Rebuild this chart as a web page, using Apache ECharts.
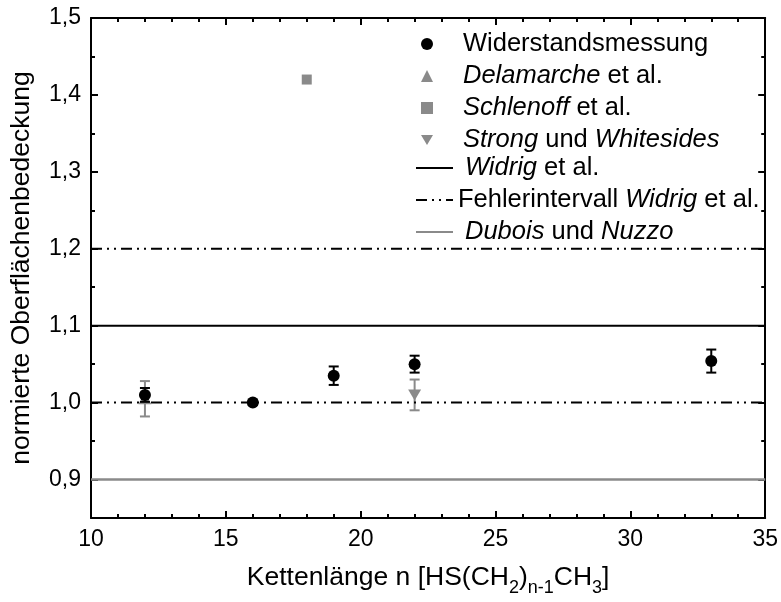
<!DOCTYPE html>
<html><head><meta charset="utf-8">
<script src="https://cdn.jsdelivr.net/npm/echarts@6/dist/echarts.min.js"></script>
<style>html,body{margin:0;padding:0;background:#fff}#c{width:781px;height:602px}</style>
</head><body><div id="c"></div>
<script>
// ---- data ----
const widN = [12, 16, 19, 22, 33];
const widY = [1.010, 1.000, 1.035, 1.050, 1.054];
const widE = [0.009, 0.003, 0.012, 0.011, 0.015];
const delN = [12];
const delY = [1.005];
const delE = [0.023];
const schN = [18];
const schY = [1.42];
const strN = [22];
const strY = [1.010];
const strE = [0.020];
const widrigLevel = [1.1];
const fehlerLevels = [1.2, 1.0];
const duboisLevel = [0.9];
const xRange = [10, 35];
const yRange = [0.85, 1.5];
const yMajor = [0.9, 1.0, 1.1, 1.2, 1.3, 1.4, 1.5];
const yMinor = [0.85, 0.95, 1.05, 1.15, 1.25, 1.35, 1.45];

const FONT = 'Liberation Sans, Arial, sans-serif';
const GRAY = '#8a8a8a';
const pts = (xs, ys) => xs.map((x, i) => [x, ys[i]]);
const errs = (xs, ys, es) => xs.map((x, i) => [x, ys[i] - es[i], ys[i] + es[i]]);
const hline = v => [[xRange[0], v], [xRange[1], v]];

function errRender(color) {
  return function (params, api) {
    const x = api.value(0), lo = api.value(1), hi = api.value(2);
    const p1 = api.coord([x, lo]), p2 = api.coord([x, hi]);
    const w = 5;
    const st = {stroke: color, lineWidth: 2};
    return {type: 'group', children: [
      {type: 'line', shape: {x1: p1[0], y1: p1[1], x2: p2[0], y2: p2[1]}, style: st},
      {type: 'line', shape: {x1: p1[0]-w, y1: p1[1], x2: p1[0]+w, y2: p1[1]}, style: st},
      {type: 'line', shape: {x1: p2[0]-w, y1: p2[1], x2: p2[0]+w, y2: p2[1]}, style: st}
    ]};
  };
}

const names = {
  wid: 'Widerstandsmessung',
  del: 'Delamarche et al.',
  sch: 'Schlenoff et al.',
  str: 'Strong und Whitesides',
  wdr: 'Widrig et al.',
  feh: 'Fehlerintervall Widrig et al.',
  dub: 'Dubois und Nuzzo'
};
const richNames = {};
richNames[names.wid] = 'Widerstandsmessung';
richNames[names.del] = '{i|Delamarche} et al.';
richNames[names.sch] = '{i|Schlenoff} et al.';
richNames[names.str] = '{i|Strong} und {i|Whitesides}';
richNames[names.wdr] = '{i|Widrig} et al.';
richNames[names.feh] = 'Fehlerintervall {i|Widrig} et al.';
richNames[names.dub] = '{i|Dubois} und {i|Nuzzo}';

const LFS = 25.5;
const richI = {i: {fontStyle: 'italic', fontFamily: FONT, fontSize: LFS, color: '#000', lineHeight: 25}};
const legendText = {fontFamily: FONT, fontSize: LFS, color: '#000', lineHeight: 25, rich: richI};
const noSym = {color: 'rgba(0,0,0,0)', borderColor: 'rgba(0,0,0,0)', borderWidth: 0};

const tickFS = 23;
const NFS = 26.5;
const baseX = {
  type: 'value', min: xRange[0], max: xRange[1], interval: 5,
  splitLine: {show: false},
  axisLine: {show: true, onZero: false, lineStyle: {color: '#000', width: 2}},
  axisTick: {show: true, inside: true, length: 7, lineStyle: {color: '#000', width: 2}},
  minorTick: {show: true, splitNumber: 5, length: 4, lineStyle: {color: '#000', width: 2}},
  minorSplitLine: {show: false}
};
const baseY = {
  type: 'value', min: yRange[0], max: yRange[1], interval: 0.05,
  splitLine: {show: false},
  axisLine: {show: true, onZero: false, lineStyle: {color: '#000', width: 2}},
  axisTick: {show: true, inside: true, length: 7, customValues: yMajor, lineStyle: {color: '#000', width: 2}}
};

const option = {
  animation: false,
  backgroundColor: '#fff',
  grid: {left: 91, right: 15, top: 18, bottom: 81, containLabel: false},
  legend: [
    {
      orient: 'vertical', left: 416, top: 26, itemWidth: 12, itemHeight: 12, itemGap: 6,
      data: [
        {name: names.wid, icon: 'circle', itemStyle: {color: '#000', opacity: 1}},
        {name: names.del, icon: 'triangle', itemStyle: {color: GRAY, opacity: 1}},
        {name: names.sch, icon: 'rect', itemStyle: {color: GRAY, opacity: 1}},
        {name: names.str, icon: 'path://M0,0L12,0L6,10Z', itemStyle: {color: GRAY, opacity: 1}}
      ],
      formatter: n => richNames[n],
      textStyle: Object.assign({padding: [0, 0, 0, 25]}, legendText)
    },
    {
      orient: 'vertical', left: 410, top: 150, itemWidth: 37, itemHeight: 13, itemGap: 6,
      data: [
        {name: names.wdr, itemStyle: noSym, textStyle: {padding: [0, 0, 0, 7]}},
        {name: names.feh, itemStyle: noSym},
        {name: names.dub, itemStyle: noSym, textStyle: {padding: [0, 0, 0, 7]}}
      ],
      formatter: n => richNames[n], textStyle: legendText
    }
  ],
  xAxis: [
    Object.assign({}, baseX, {
      position: 'bottom',
      axisLabel: {fontFamily: FONT, fontSize: tickFS, color: '#000', margin: 10},
      name: 'Kettenlänge n [HS(CH{s|2}){s|n-1}CH{s|3}]',
      nameLocation: 'middle', nameGap: 41,
      nameTextStyle: {
        fontFamily: FONT, fontSize: NFS, color: '#000', lineHeight: 38,
        rich: {s: {fontFamily: FONT, fontSize: 18, color: '#000', lineHeight: 18, verticalAlign: 'bottom'}}
      }
    }),
    Object.assign({}, baseX, {position: 'top', axisLabel: {show: false}})
  ],
  yAxis: [
    Object.assign({}, baseY, {
      position: 'left',
      axisLabel: {
        fontFamily: FONT, fontSize: tickFS, color: '#000', margin: 10, customValues: yMajor,
        formatter: v => v.toFixed(1).replace('.', ',')
      },
      name: 'normierte Oberflächenbedeckung', nameLocation: 'middle', nameRotate: 90, nameGap: 56,
      nameTextStyle: {fontFamily: FONT, fontSize: NFS, color: '#000'}
    }),
    Object.assign({}, baseY, {
      position: 'left', axisLine: {show: false}, axisLabel: {show: false},
      axisTick: {show: true, inside: true, length: 4, customValues: yMinor, lineStyle: {color: '#000', width: 2}}
    }),
    Object.assign({}, baseY, {position: 'right', axisLabel: {show: false}}),
    Object.assign({}, baseY, {
      position: 'right', axisLine: {show: false}, axisLabel: {show: false},
      axisTick: {show: true, inside: true, length: 4, customValues: yMinor, lineStyle: {color: '#000', width: 2}}
    })
  ],
  series: [
    {name: names.dub, type: 'line', data: hline(duboisLevel[0]), symbol: 'none', silent: true,
      lineStyle: {color: GRAY, width: 2.5}, itemStyle: {color: GRAY}},
    {name: names.feh, type: 'line', data: hline(fehlerLevels[0]), symbol: 'none', silent: true,
      lineStyle: {color: '#000', width: 2, type: [11, 5, 2, 5, 2, 5]}, itemStyle: {color: '#000'}},
    {name: names.feh, type: 'line', data: hline(fehlerLevels[1]), symbol: 'none', silent: true,
      lineStyle: {color: '#000', width: 2, type: [11, 5, 2, 5, 2, 5]}, itemStyle: {color: '#000'}},
    {name: names.wdr, type: 'line', data: hline(widrigLevel[0]), symbol: 'none', silent: true,
      lineStyle: {color: '#000', width: 2}, itemStyle: {color: '#000'}},
    {name: names.del, type: 'scatter', data: pts(delN, delY), symbol: 'triangle', symbolSize: [13, 11],
      itemStyle: {color: GRAY, opacity: 1}, z: 4},
    {name: names.sch, type: 'scatter', data: pts(schN, schY), symbol: 'rect', symbolSize: 10,
      itemStyle: {color: GRAY, opacity: 1}, z: 4},
    {name: names.str, type: 'scatter', data: pts(strN, strY), symbol: 'triangle', symbolRotate: 180,
      symbolSize: [13, 11], itemStyle: {color: GRAY, opacity: 1}, z: 4},
    {name: names.wid, type: 'scatter', data: pts(widN, widY), symbol: 'circle', symbolSize: 12,
      itemStyle: {color: '#000', opacity: 1}, z: 6},
    {name: names.del, type: 'custom', renderItem: errRender(GRAY), data: errs(delN, delY, delE), z: 3},
    {name: names.str, type: 'custom', renderItem: errRender(GRAY), data: errs(strN, strY, strE), z: 3},
    {name: names.wid, type: 'custom', renderItem: errRender('#000'), data: errs(widN, widY, widE), z: 5}
  ]
};
const chart = echarts.init(document.getElementById('c'), null, {renderer: 'canvas'});
chart.setOption(option);
</script></body></html>
